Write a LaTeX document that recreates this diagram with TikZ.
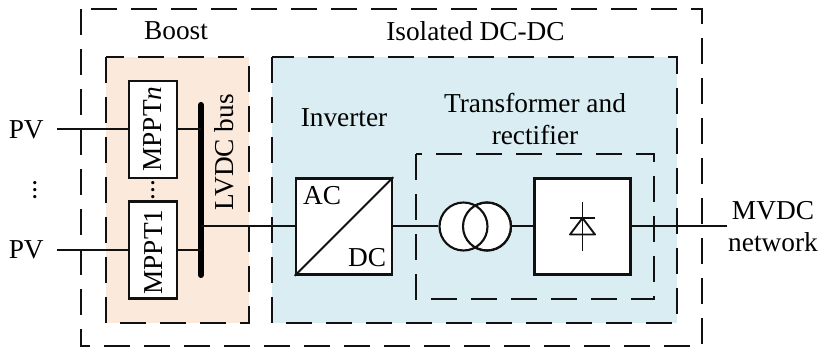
\documentclass[tikz,border=0pt]{standalone}
\usepackage{fontspec}
\setmainfont{Liberation Serif}
\definecolor{orangebg}{HTML}{FBE9DC}
\definecolor{bluebg}{HTML}{DAEDF3}
\definecolor{ink}{HTML}{111111}
\tikzset{
  dashbox/.style={draw=ink,line width=1.2pt,dash pattern=on 19.5pt off 10.5pt},
  solidbox/.style={draw=ink,line width=1.9pt,fill=white,inner sep=0pt},
  wire/.style={draw=ink,line width=1.5pt},
  thinwire/.style={draw=ink,line width=1.4pt},
  ring/.style={circle,draw=ink,line width=1.6pt,minimum size=36pt,inner sep=0pt},
  lbl/.style={inner sep=0pt,font=\fontsize{20.5}{24}\selectfont,text=black}
}
\begin{document}
\begin{tikzpicture}[x=0.75pt,y=-0.75pt]
\useasboundingbox (0,0) rectangle (819,349);
\fill[orangebg] (106,57) rectangle (249,323);
\fill[bluebg] (272,57) rectangle (677,323);
\draw[dashbox] (81,9) rectangle (702,346);
\draw[dashbox] (106,57) rectangle (249,323);
\draw[dashbox] (272,57) rectangle (677,323);
\draw[dashbox] (416,154) rectangle (654,299);

\node[solidbox,minimum width=36pt,minimum height=72.8pt] (mn) at (153,129.5) {};
\node[solidbox,minimum width=36pt,minimum height=72.8pt] (m1) at (153,250) {};
\node[lbl,rotate=90] at (153,129) {MPPT\textit{n}};
\node[lbl,rotate=90] at (153,252) {MPPT1};

\coordinate (bt) at (201,105);
\coordinate (bb) at (201,275);
\draw[draw=black,line width=4.6pt,line cap=round] (bt) -- (bb);
\coordinate (bn) at (201,129.5);
\coordinate (b1) at (201,250);
\coordinate (bm) at (201,226.5);

\node[lbl,anchor=east] (pv1) at (44,129.5) {PV};
\node[lbl,anchor=east] (pv2) at (44,250) {PV};
\coordinate (p1) at (57,129.5);
\coordinate (p2) at (57,250);
\draw[wire] (p1) -- (mn.west);
\draw[wire] (p2) -- (m1.west);
\draw[wire] (mn.east) -- (bn);
\draw[wire] (m1.east) -- (b1);

\node[solidbox,minimum width=72pt,minimum height=72pt] (inv) at (344,226.5) {};
\draw[wire] (inv.south west) -- (inv.north east);
\node[lbl] at (322,196) {AC};
\node[lbl] at (367,258) {DC};
\draw[wire] (bm) -- (inv.west);

\node[ring,fill=white] (c2) at (487,226.5) {};
\node[ring,fill=white] (c1) at (463.5,226.5) {};
\node[ring] (c2o) at (487,226.5) {};
\node[solidbox,minimum width=72pt,minimum height=72pt] (rec) at (582.5,226.5) {};
\draw[wire] (inv.east) -- (c1.west);
\draw[wire] (c2.east) -- (rec.west);
\coordinate (out) at (727,226.5);
\draw[wire] (rec.east) -- (out);

\coordinate (d1) at (582.5,202);
\coordinate (d2) at (582.5,251);
\coordinate (dl) at (570,218);
\coordinate (dr) at (595,218);
\coordinate (tl) at (570,234.5);
\coordinate (tr) at (595,234.5);
\coordinate (ta) at (582.5,218);
\draw[thinwire] (d1) -- (d2);
\draw[thinwire] (dl) -- (dr);
\draw[thinwire,line join=round] (ta) -- (tl) -- (tr) -- cycle;

\node[lbl] at (176,31) {Boost};
\node[lbl] at (475.5,31) {Isolated DC-DC};
\node[lbl] at (344,118) {Inverter};
\node[lbl,align=center] at (535,119) {Transformer and\\rectifier};
\node[lbl,rotate=90] at (224,152.5) {LVDC bus};
\node[lbl,align=center] at (773,227) {MVDC\\network};
\node[lbl,rotate=90] at (35,190) {...};
\node[lbl,rotate=90] at (153.5,190) {...};
\end{tikzpicture}
\end{document}
